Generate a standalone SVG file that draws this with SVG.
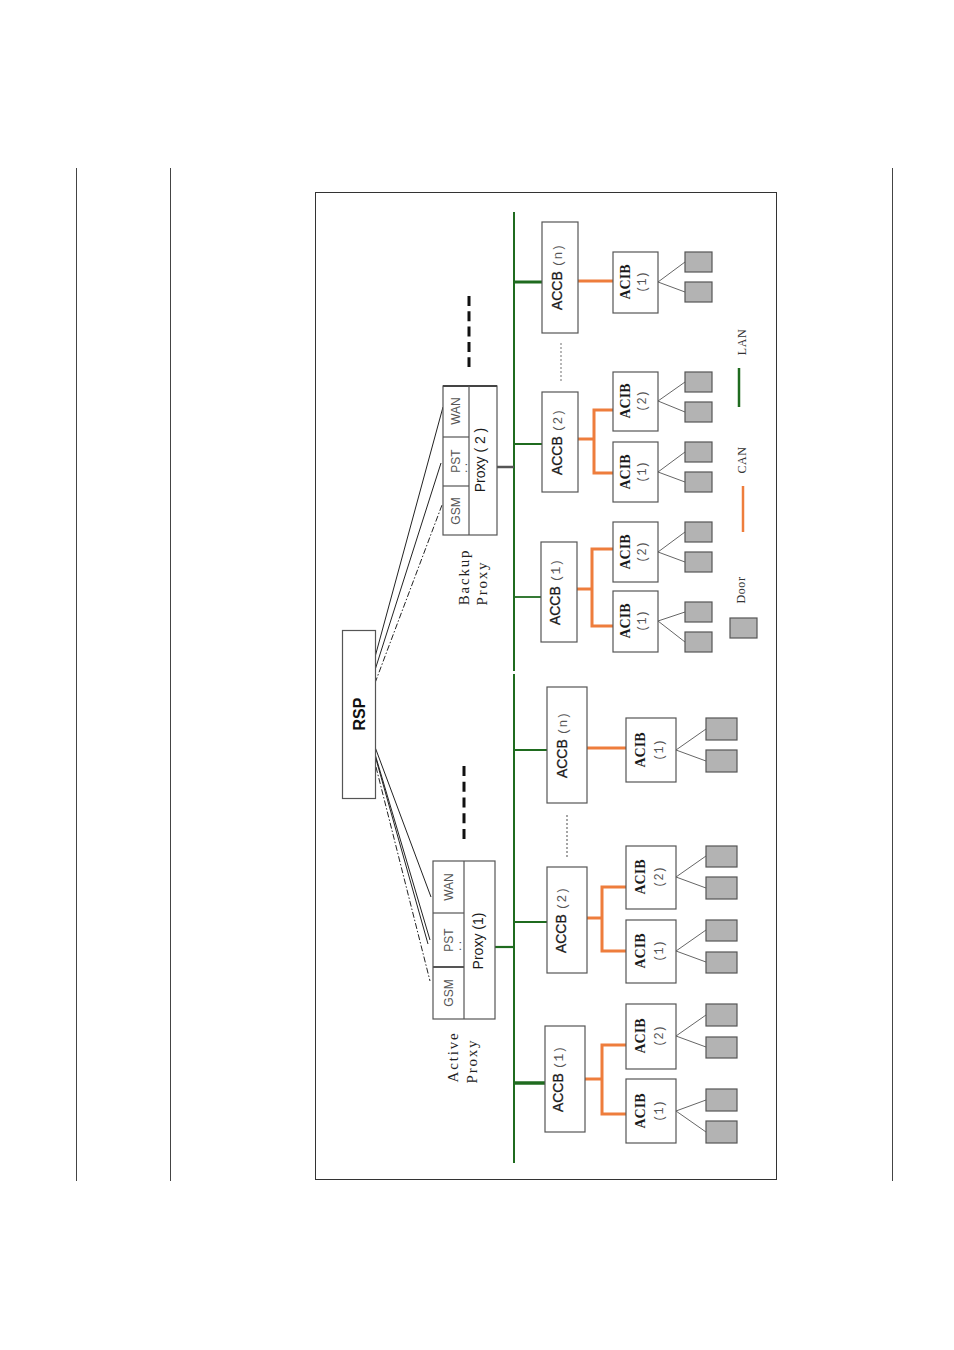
<svg xmlns="http://www.w3.org/2000/svg" width="954" height="1350" viewBox="0 0 954 1350">
<style>
.box{fill:#fff;stroke:#555;stroke-width:1.2}
.door{fill:#b3b3b3;stroke:#555;stroke-width:1.2}
.lan{stroke:#1f6b1f;fill:none}
.can{stroke:#ee7d3c;stroke-width:3;fill:none}
.dl{stroke:#666;stroke-width:1;fill:none}
.rl{stroke:#222;stroke-width:1;fill:none}
.t-accb{font-family:"Liberation Sans",Arial,sans-serif;font-size:14px;fill:#1a1a1a;text-anchor:middle;stroke:#1a1a1a;stroke-width:0.3}
.t-n{font-family:"Liberation Mono",monospace;font-size:13px;fill:#555;stroke:none}
.t-acib{font-family:"Liberation Serif","Times New Roman",serif;font-weight:bold;font-size:14px;fill:#1a1a1a;text-anchor:middle}
.t-acibn{font-family:"Liberation Mono",monospace;font-size:12px;fill:#555;text-anchor:middle}
.t-px{font-family:"Liberation Sans",Arial,sans-serif;font-size:12px;fill:#555;text-anchor:middle}
.t-prox{font-family:"Liberation Sans",Arial,sans-serif;font-size:14px;fill:#1a1a1a;text-anchor:middle}
.t-lbl{font-family:"Liberation Serif","Times New Roman",serif;font-size:15px;fill:#222;text-anchor:middle;letter-spacing:1.8px}
.t-leg{font-family:"Liberation Serif","Times New Roman",serif;font-size:12px;fill:#333;text-anchor:middle;letter-spacing:0.6px}
</style>
<rect width="954" height="1350" fill="#fff"/>
<g id="page" stroke="#444" stroke-width="1">
<line x1="76.5" y1="168" x2="76.5" y2="1181"/>
<line x1="170.5" y1="168" x2="170.5" y2="1181"/>
<line x1="892.5" y1="168" x2="892.5" y2="1181"/>
<rect x="315.5" y="192.5" width="461" height="987" fill="none" stroke="#333"/>
</g>
<g id="connectors">
<line class="lan" x1="514" y1="212" x2="514" y2="671" stroke-width="2"/>
<line class="lan" x1="514" y1="674" x2="514" y2="1163" stroke-width="2"/>
<line class="lan" x1="514" y1="282" x2="542" y2="282" stroke-width="3"/>
<line class="lan" x1="514" y1="444" x2="542" y2="444" stroke-width="2"/>
<line class="lan" x1="514" y1="597" x2="541" y2="597" stroke-width="1.8"/>
<line x1="497" y1="467" x2="514" y2="467" stroke="#555" stroke-width="2.5"/>
<line class="lan" x1="514" y1="750" x2="547" y2="750" stroke-width="2.2"/>
<line class="lan" x1="514" y1="922" x2="547" y2="922" stroke-width="2"/>
<line class="lan" x1="514" y1="1083" x2="545" y2="1083" stroke-width="3.5"/>
<line class="lan" x1="495" y1="947" x2="514" y2="947" stroke-width="2.2"/>
<line class="can" x1="578" y1="281" x2="613" y2="281"/>
<polyline class="can" points="578,439 594,439"/>
<polyline class="can" points="613,410 594,410 594,473 613,473"/>
<polyline class="can" points="577,589 592,589"/>
<polyline class="can" points="613,549 592,549 592,626 613,626"/>
<line class="can" x1="587" y1="748" x2="626" y2="748"/>
<polyline class="can" points="587,918 602,918"/>
<polyline class="can" points="626,887 602,887 602,951 626,951"/>
<polyline class="can" points="585,1079 602,1079"/>
<polyline class="can" points="626,1045 602,1045 602,1114 626,1114"/>
<polyline class="dl" points="685,262 658,282 685,292"/>
<polyline class="dl" points="685,382 658,401 685,412"/>
<polyline class="dl" points="685,452 658,472 685,482"/>
<polyline class="dl" points="685,532 658,552 685,562"/>
<polyline class="dl" points="685,612 658,621 685,642"/>
<polyline class="dl" points="706,729 676,750 706,761"/>
<polyline class="dl" points="706,856 676,877 706,888"/>
<polyline class="dl" points="706,930 676,951 706,962"/>
<polyline class="dl" points="706,1015 676,1036 706,1047"/>
<polyline class="dl" points="706,1100 676,1111 706,1132"/>
<line class="rl" x1="375" y1="657" x2="443" y2="407"/>
<line class="rl" x1="375" y1="670" x2="441" y2="463"/>
<line class="rl" x1="375" y1="683" x2="442" y2="505" stroke-dasharray="6,2,1.5,2"/>
<line class="rl" x1="375" y1="747" x2="431" y2="897"/>
<line class="rl" x1="375" y1="754" x2="430" y2="940"/>
<line class="rl" x1="376" y1="759" x2="428" y2="944"/>
<line class="rl" x1="376" y1="767" x2="430" y2="981" stroke-dasharray="6,2,1.5,2"/>
<line x1="469" y1="296" x2="469" y2="367" stroke="#111" stroke-width="3" stroke-dasharray="10,5.3"/>
<line x1="464" y1="766" x2="464" y2="839" stroke="#111" stroke-width="3" stroke-dasharray="10,5.75"/>
<line x1="561" y1="343" x2="561" y2="382" stroke="#888" stroke-width="1.2" stroke-dasharray="2,2"/>
<line x1="567" y1="815" x2="567" y2="857" stroke="#888" stroke-width="1.5" stroke-dasharray="2,2"/>
</g>
<g id="rsp">
<rect class="box" x="342.5" y="630.5" width="33" height="168" stroke="#222"/>
<text transform="translate(365,714) rotate(-90)" font-family="Liberation Sans,Arial,sans-serif" font-weight="bold" font-size="16" fill="#111" text-anchor="middle">RSP</text>
</g>
<g id="proxy2">
<rect class="box" x="443" y="386" width="54" height="149"/>
<line x1="443" y1="386" x2="497" y2="386" stroke="#444" stroke-width="2"/>
<line x1="469" y1="386" x2="469" y2="535" stroke="#555" stroke-width="1.2"/>
<line x1="443" y1="437" x2="469" y2="437" stroke="#555" stroke-width="1.2"/>
<line x1="443" y1="486" x2="469" y2="486" stroke="#555" stroke-width="1.2"/>
<text class="t-px" transform="translate(460,411) rotate(-90)">WAN</text>
<text class="t-px" transform="translate(460,461) rotate(-90)">PST</text>
<text class="t-px" transform="translate(467,468) rotate(-90)" font-size="8">. .</text>
<text class="t-px" transform="translate(460,511) rotate(-90)">GSM</text>
<text class="t-prox" transform="translate(485,460) rotate(-90)">Proxy ( 2 )</text>
</g>
<g id="proxy1">
<rect class="box" x="433" y="861" width="62" height="158"/>
<line x1="464" y1="861" x2="464" y2="1019" stroke="#555" stroke-width="1.2"/>
<line x1="433" y1="913" x2="464" y2="913" stroke="#555" stroke-width="1.2"/>
<line x1="433" y1="967" x2="464" y2="967" stroke="#555" stroke-width="2"/>
<text class="t-px" transform="translate(453,887) rotate(-90)">WAN</text>
<text class="t-px" transform="translate(453,940) rotate(-90)">PST</text>
<text class="t-px" transform="translate(461,946) rotate(-90)" font-size="8">. .</text>
<text class="t-px" transform="translate(453,993) rotate(-90)">GSM</text>
<text class="t-prox" transform="translate(483,941) rotate(-90)">Proxy (1)</text>
</g>
<g id="labels">
<text class="t-lbl" transform="translate(469,577) rotate(-90)">Backup</text>
<text class="t-lbl" transform="translate(487,583) rotate(-90)">Proxy</text>
<text class="t-lbl" transform="translate(458,1057) rotate(-90)">Active</text>
<text class="t-lbl" transform="translate(477,1061) rotate(-90)">Proxy</text>
</g>
<g id="accb-u-n">
<rect class="box" x="542" y="222" width="36" height="111"/>
<text class="t-accb" transform="translate(562,277) rotate(-90)">ACCB <tspan class="t-n">(n)</tspan></text>
</g>
<g id="acib-u-n1">
<rect class="box" x="613" y="252" width="45" height="61"/>
<text class="t-acib" transform="translate(630,282) rotate(-90)">ACIB</text>
<text class="t-acibn" transform="translate(646,282) rotate(-90)">(1)</text>
</g>
<g id="doors-u-n1"><rect class="door" x="685" y="252" width="27" height="20"/><rect class="door" x="685" y="282" width="27" height="20"/></g>
<g id="accb-u-2">
<rect class="box" x="542" y="392" width="36" height="100"/>
<text class="t-accb" transform="translate(562,442) rotate(-90)">ACCB <tspan class="t-n">(2)</tspan></text>
</g>
<g id="acib-u-2-2">
<rect class="box" x="613" y="372" width="45" height="59"/>
<text class="t-acib" transform="translate(630,401) rotate(-90)">ACIB</text>
<text class="t-acibn" transform="translate(646,401) rotate(-90)">(2)</text>
</g>
<g id="acib-u-2-1">
<rect class="box" x="613" y="442" width="45" height="60"/>
<text class="t-acib" transform="translate(630,472) rotate(-90)">ACIB</text>
<text class="t-acibn" transform="translate(646,472) rotate(-90)">(1)</text>
</g>
<g id="doors-u-2">
<rect class="door" x="685" y="372" width="27" height="20"/><rect class="door" x="685" y="402" width="27" height="20"/>
<rect class="door" x="685" y="442" width="27" height="20"/><rect class="door" x="685" y="472" width="27" height="20"/>
</g>
<g id="accb-u-1">
<rect class="box" x="541" y="542" width="36" height="100"/>
<text class="t-accb" transform="translate(560,592) rotate(-90)">ACCB <tspan class="t-n">(1)</tspan></text>
</g>
<g id="acib-u-1-2">
<rect class="box" x="613" y="522" width="45" height="60"/>
<text class="t-acib" transform="translate(630,552) rotate(-90)">ACIB</text>
<text class="t-acibn" transform="translate(646,552) rotate(-90)">(2)</text>
</g>
<g id="acib-u-1-1">
<rect class="box" x="613" y="591" width="45" height="61"/>
<text class="t-acib" transform="translate(630,621) rotate(-90)">ACIB</text>
<text class="t-acibn" transform="translate(646,621) rotate(-90)">(1)</text>
</g>
<g id="doors-u-1">
<rect class="door" x="685" y="522" width="27" height="20"/><rect class="door" x="685" y="552" width="27" height="20"/>
<rect class="door" x="685" y="602" width="27" height="20"/><rect class="door" x="685" y="632" width="27" height="20"/>
</g>
<g id="accb-l-n">
<rect class="box" x="547" y="687" width="40" height="116"/>
<text class="t-accb" transform="translate(567,745) rotate(-90)">ACCB <tspan class="t-n">(n)</tspan></text>
</g>
<g id="acib-l-n1">
<rect class="box" x="626" y="718" width="50" height="64"/>
<text class="t-acib" transform="translate(645,750) rotate(-90)">ACIB</text>
<text class="t-acibn" transform="translate(663,750) rotate(-90)">(1)</text>
</g>
<g id="doors-l-n1"><rect class="door" x="706" y="718" width="31" height="22"/><rect class="door" x="706" y="750" width="31" height="22"/></g>
<g id="accb-l-2">
<rect class="box" x="547" y="867" width="40" height="106"/>
<text class="t-accb" transform="translate(566,920) rotate(-90)">ACCB <tspan class="t-n">(2)</tspan></text>
</g>
<g id="acib-l-2-2">
<rect class="box" x="626" y="846" width="50" height="63"/>
<text class="t-acib" transform="translate(645,877) rotate(-90)">ACIB</text>
<text class="t-acibn" transform="translate(663,877) rotate(-90)">(2)</text>
</g>
<g id="acib-l-2-1">
<rect class="box" x="626" y="920" width="50" height="63"/>
<text class="t-acib" transform="translate(645,951) rotate(-90)">ACIB</text>
<text class="t-acibn" transform="translate(663,951) rotate(-90)">(1)</text>
</g>
<g id="doors-l-2">
<rect class="door" x="706" y="846" width="31" height="21"/><rect class="door" x="706" y="877" width="31" height="22"/>
<rect class="door" x="706" y="920" width="31" height="21"/><rect class="door" x="706" y="952" width="31" height="21"/>
</g>
<g id="accb-l-1">
<rect class="box" x="545" y="1026" width="40" height="106"/>
<text class="t-accb" transform="translate(563,1079) rotate(-90)">ACCB <tspan class="t-n">(1)</tspan></text>
</g>
<g id="acib-l-1-2">
<rect class="box" x="626" y="1004" width="50" height="65"/>
<text class="t-acib" transform="translate(645,1036) rotate(-90)">ACIB</text>
<text class="t-acibn" transform="translate(663,1036) rotate(-90)">(2)</text>
</g>
<g id="acib-l-1-1">
<rect class="box" x="626" y="1079" width="50" height="64"/>
<text class="t-acib" transform="translate(645,1111) rotate(-90)">ACIB</text>
<text class="t-acibn" transform="translate(663,1111) rotate(-90)">(1)</text>
</g>
<g id="doors-l-1">
<rect class="door" x="706" y="1004" width="31" height="22"/><rect class="door" x="706" y="1037" width="31" height="21"/>
<rect class="door" x="706" y="1089" width="31" height="22"/><rect class="door" x="706" y="1121" width="31" height="22"/>
</g>
<g id="legend">
<line x1="739" y1="368" x2="739" y2="407" stroke="#1f6b1f" stroke-width="2.5"/>
<text class="t-leg" transform="translate(746,342) rotate(-90)">LAN</text>
<line x1="743" y1="486" x2="743" y2="532" stroke="#ee7d3c" stroke-width="2.5"/>
<text class="t-leg" transform="translate(746,460) rotate(-90)">CAN</text>
<rect class="door" x="730" y="618" width="27" height="20"/>
<text class="t-leg" transform="translate(745,590) rotate(-90)" font-size="11">Door</text>
</g>
</svg>
